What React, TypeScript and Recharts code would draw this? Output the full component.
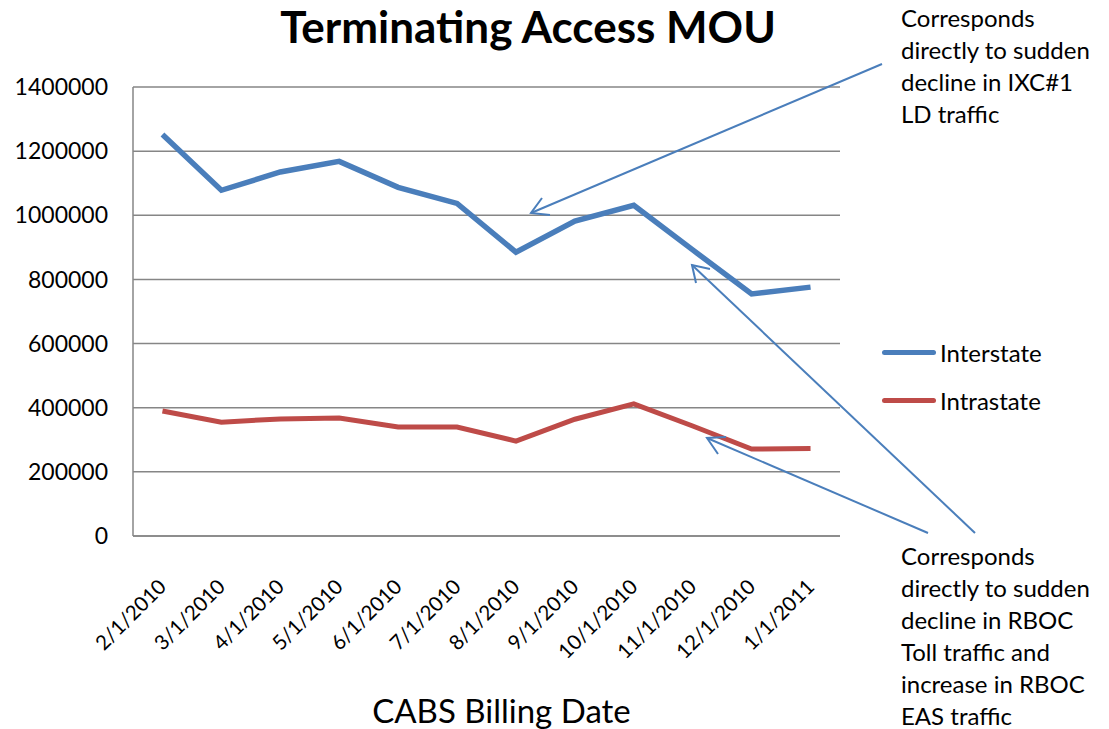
import React from 'react';
import { LineChart, Line, XAxis, YAxis, CartesianGrid, Legend } from 'recharts';

const DATES = [
  '2/1/2010', '3/1/2010', '4/1/2010', '5/1/2010', '6/1/2010', '7/1/2010',
  '8/1/2010', '9/1/2010', '10/1/2010', '11/1/2010', '12/1/2010', '1/1/2011',
];
const INTERSTATE = [1252000, 1078000, 1135000, 1168000, 1087000, 1037000, 885000, 982000, 1031000, 892000, 755000, 776000];
const INTRASTATE = [390000, 355000, 365000, 368000, 340000, 340000, 296000, 364000, 412000, 343000, 271000, 273000];
const Y_TICKS = [0, 200000, 400000, 600000, 800000, 1000000, 1200000, 1400000];

const FONT = 'Lato, "Open Sans", sans-serif';
const BLUE = '#4A7EBB';
const RED = '#BE4B48';

const chartData = DATES.map((d, i) => ({
  date: d,
  Interstate: INTERSTATE[i],
  Intrastate: INTRASTATE[i],
}));

const DateTick = (props: any) => {
  const { x, y, payload } = props;
  return (
    <g transform={`translate(${x + 5},${y + 44})`}>
      <text transform="rotate(-45)" textAnchor="end" fontSize={20.5} fill="#000" fontFamily={FONT}>
        {payload.value}
      </text>
    </g>
  );
};

const LegendBox = (props: any) => {
  const { payload } = props;
  return (
    <div style={{ fontFamily: FONT, fontSize: 24 }}>
      {payload.map((p: any) => (
        <div key={p.value} style={{ display: 'flex', alignItems: 'center', height: 48 }}>
          <span style={{ display: 'inline-block', width: 54, height: 5, background: p.color, borderRadius: 3, marginRight: 4 }} />
          <span>{p.value}</span>
        </div>
      ))}
    </div>
  );
};

const noteStyle: React.CSSProperties = {
  position: 'absolute',
  left: 901,
  fontFamily: FONT,
  fontSize: 24,
  lineHeight: '32px',
  color: '#000',
  whiteSpace: 'nowrap',
};

export default function App() {
  return (
    <div style={{ position: 'absolute', left: 0, top: 0, width: 1109, height: 729, background: '#fff' }}>
      <LineChart
        width={1109}
        height={729}
        data={chartData}
        margin={{ top: 87, right: 60, bottom: 0, left: 0 }}
      >
        <CartesianGrid vertical={false} stroke="#868686" strokeWidth={1.5} />
        <XAxis
          dataKey="date"
          scale="band"
          height={193}
          tick={<DateTick />}
          tickLine={false}
          axisLine={{ stroke: '#868686', strokeWidth: 1.5 }}
          interval={0}
          label={{ value: 'CABS Billing Date', position: 'insideBottom', offset: 6, dx: 15, fontSize: 33, fill: '#000', fontFamily: FONT }}
        />
        <YAxis
          width={133}
          domain={[0, 1400000]}
          ticks={Y_TICKS}
          tickLine={false}
          tickSize={0}
          tickMargin={25}
          axisLine={{ stroke: '#868686', strokeWidth: 1.5 }}
          tick={{ fontSize: 23, fill: '#000', fontFamily: FONT }}
        />
        <Legend
          layout="vertical"
          align="right"
          verticalAlign="middle"
          content={<LegendBox />}
          wrapperStyle={{ width: 209, left: 882, top: 328 }}
        />
        <Line type="linear" dataKey="Interstate" stroke={BLUE} strokeWidth={5.5} dot={false} isAnimationActive={false} />
        <Line type="linear" dataKey="Intrastate" stroke={RED} strokeWidth={5} dot={false} isAnimationActive={false} />
      </LineChart>

      <div style={{ position: 'absolute', left: 0, width: 1056, top: 0, textAlign: 'center', fontFamily: FONT, fontWeight: 700, fontSize: 44 }}>
        Terminating Access MOU
      </div>

      <div style={{ ...noteStyle, top: 2 }}>
        Corresponds<br />directly to sudden<br />decline in IXC#1<br />LD traffic
      </div>
      <div style={{ ...noteStyle, top: 540 }}>
        Corresponds<br />directly to sudden<br />decline in RBOC<br />Toll traffic and<br />increase in RBOC<br />EAS traffic
      </div>

      <svg width={1109} height={729} style={{ position: 'absolute', left: 0, top: 0, pointerEvents: 'none' }}>
        <g stroke={BLUE} strokeWidth={2} fill="none">
          <line x1={882} y1={64} x2={531} y2={213} />
          <polyline points="542,198 531,213 550,215" />
          <line x1={975} y1={533} x2={692} y2={265} />
          <polyline points="696,283 692,265 710,269" />
          <line x1={928} y1={533} x2={707} y2={438} />
          <polyline points="718,454 707,438 726,437" />
        </g>
      </svg>
    </div>
  );
}
